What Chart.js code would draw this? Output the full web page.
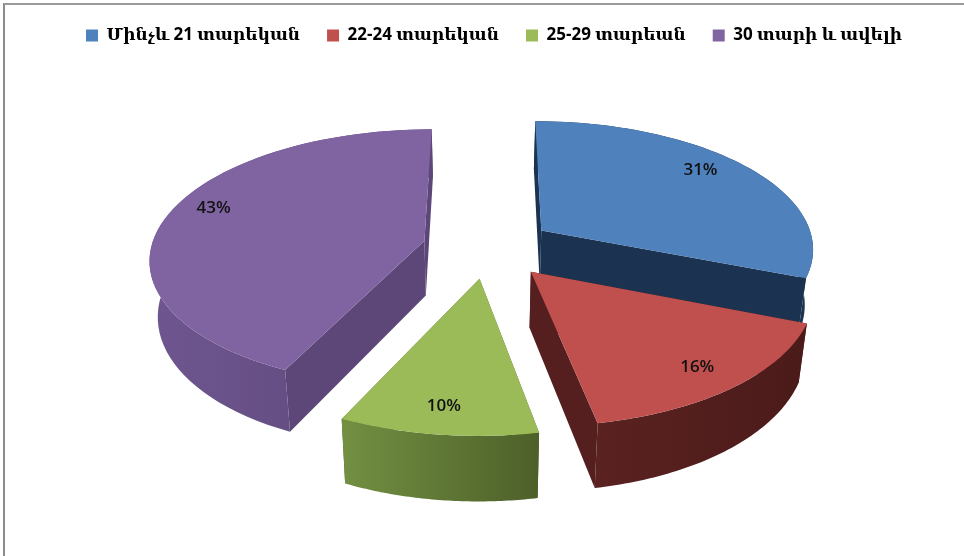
<!DOCTYPE html>
<html>
<head>
<meta charset="utf-8">
<script src="https://cdn.jsdelivr.net/npm/chart.js@4"></script>
<style>
  html, body { margin: 0; padding: 0; background: #fff; overflow: hidden; }
  #wrap { position: relative; width: 964px; height: 556px; }
  #frame { position: absolute; left: 3px; top: 3px; right: 0; bottom: 0; border-left: 2px solid #8c8c8c; border-top: 2px solid #9a9a9a; }
  canvas { position: absolute; left: 0; top: 0; }
</style>
</head>
<body>
<div id="wrap">
  <canvas id="myChart" width="964" height="556"></canvas>
  <div id="frame"></div>
</div>
<script>
// chart data
const categories = ['Մինչև 21 տարեկան', '22-24 տարեկան', '25-29 տարեան', '30 տարի և ավելի'];
const shares = [31, 16, 10, 43];

// slice colours
const topColors = ['#4f81bd', '#c0504d', '#9bbb59', '#8064a2'];
const wallColors = ['#1b3350', '#541f1e', '#4d6029', '#5c4778'];
const rimLeftColors = ['#1b3350', '#5a2220', '#728f42', '#6e558f'];
const rimRightColors = ['#1b3350', '#4b1b1a', '#4d6029', '#5c4778'];

// fake 3D view of the flat pie
const stretchX = 274 / 194;
const stretchY = 128 / 194;
const viewShiftX = -6;
const perspective = 0.13;
const explode = 0.24;
const depth = 55;
const bottomShrink = 0.975;
const shrinkCenterX = 480;
const drawOrder = [3, 0, 2, 1];
const labelRadius = 0.8;
const labelNudge = [[-6, -8], [7, 5], [-3, 7], [-5, -11]];

function project(el, angle, radius, lower) {
  const mid = (el.startAngle + el.endAngle) / 2;
  const px = radius * Math.cos(angle) + explode * Math.cos(mid);
  const py = radius * Math.sin(angle) + explode * Math.sin(mid);
  const w = 1 / (1 - perspective * py);
  let x = el.x + viewShiftX + stretchX * el.outerRadius * px * w;
  let y = el.y + stretchY * el.outerRadius * py * w;
  if (lower) {
    x = shrinkCenterX + (x - shrinkCenterX) * bottomShrink;
    y += depth * w;
  }
  return { x: x, y: y };
}

function rimPoints(el, lower) {
  let pts = [];
  const steps = 60;
  for (let i = 0; i <= steps; i++) {
    const a = el.startAngle + (el.endAngle - el.startAngle) * i / steps;
    pts.push(project(el, a, 1, lower));
  }
  return pts;
}

function fillPath(ctx, pts, color) {
  ctx.beginPath();
  ctx.moveTo(pts[0].x, pts[0].y);
  for (let i = 1; i < pts.length; i++) {
    ctx.lineTo(pts[i].x, pts[i].y);
  }
  ctx.closePath();
  ctx.fillStyle = color;
  ctx.fill();
}

const pie3d = {
  id: 'pie3d',
  beforeDatasetDraw(chart, args) {
    const ctx = chart.ctx;
    const arcs = args.meta.data;
    ctx.save();
    drawOrder.forEach((i) => {
      const el = arcs[i];
      const top = rimPoints(el, false);
      const bottom = rimPoints(el, true);
      const apexTop = project(el, 0, 0, false);
      const apexBottom = project(el, 0, 0, true);
      const last = top.length - 1;

      // straight walls
      fillPath(ctx, [apexTop, top[0], bottom[0], apexBottom], wallColors[i]);
      fillPath(ctx, [apexTop, top[last], bottom[last], apexBottom], wallColors[i]);

      // curved wall
      const xs = bottom.map((p) => p.x);
      const grad = ctx.createLinearGradient(Math.min(...xs), 0, Math.max(...xs), 0);
      grad.addColorStop(0, rimLeftColors[i]);
      grad.addColorStop(1, rimRightColors[i]);
      fillPath(ctx, top.concat(bottom.slice().reverse()), grad);

      // top face
      fillPath(ctx, [apexTop].concat(top), topColors[i]);
    });

    // percent labels
    ctx.font = '600 17px "Open Sans", sans-serif';
    ctx.fillStyle = '#111';
    ctx.textAlign = 'center';
    ctx.textBaseline = 'middle';
    arcs.forEach((el, i) => {
      const mid = (el.startAngle + el.endAngle) / 2;
      const p = project(el, mid, labelRadius, false);
      ctx.fillText(shares[i] + '%', p.x + labelNudge[i][0], p.y + labelNudge[i][1]);
    });
    ctx.restore();
    return false;
  }
};

let chart = new Chart(document.getElementById('myChart').getContext('2d'), {
  type: 'pie',
  data: {
    labels: categories,
    datasets: [{
      data: shares,
      backgroundColor: topColors,
      borderWidth: 0
    }]
  },
  options: {
    responsive: false,
    animation: false,
    layout: { padding: { left: 24, bottom: 115 } },
    plugins: {
      tooltip: { enabled: false },
      legend: {
        position: 'top',
        labels: {
          boxWidth: 12,
          boxHeight: 12,
          padding: 27,
          color: '#000',
          font: { size: 17, weight: 'bold', family: '"Open Sans", "DejaVu Serif", serif' }
        }
      }
    }
  },
  plugins: [pie3d]
});
</script>
</body>
</html>
